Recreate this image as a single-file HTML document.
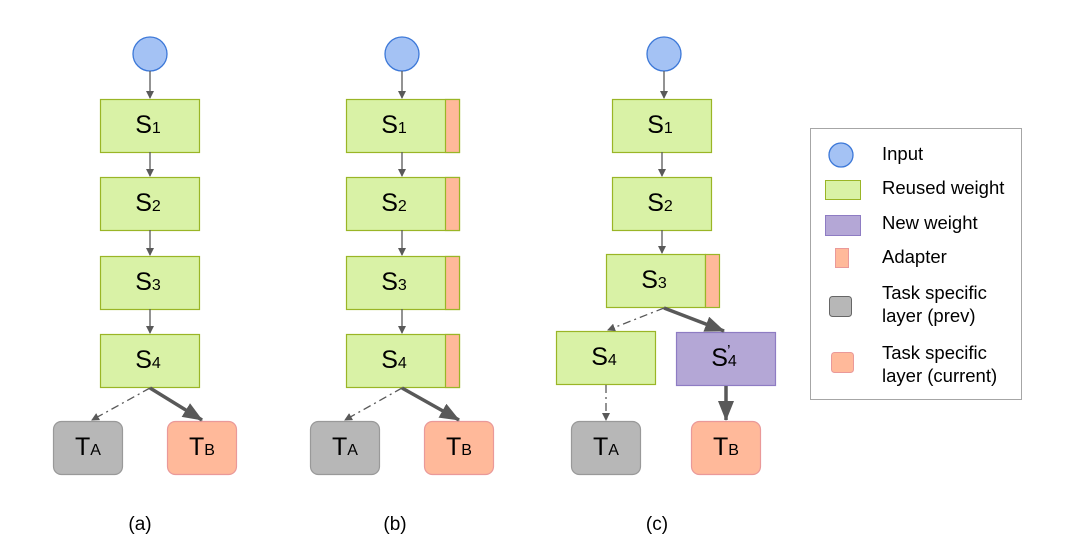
<!DOCTYPE html>
<html><head><meta charset="utf-8"><style>
html,body{margin:0;padding:0;background:#fff;}
svg{display:block;font-family:"Liberation Sans",Arial,sans-serif;}
</style></head><body>
<svg width="1066" height="549" viewBox="0 0 1066 549">
<defs>
<marker id="ah" markerWidth="8" markerHeight="8" refX="7" refY="4" orient="auto" markerUnits="userSpaceOnUse"><path d="M0,0 L8,4 L0,8 z" fill="#595959"/></marker>
<marker id="ahb" markerWidth="20" markerHeight="16" refX="19" refY="8" orient="auto" markerUnits="userSpaceOnUse"><path d="M0,0 L20,8 L0,16 z" fill="#595959"/></marker>
</defs>
<g id="root"></g>
<g>
<rect x="810.5" y="128.5" width="211" height="271" fill="#fff" stroke="#a6a6a6"/>
<circle cx="841" cy="155" r="12" fill="#a4c2f4" stroke="#3c78d8" stroke-width="1.3"/>
<rect x="825.5" y="180.5" width="35" height="19" fill="#d9f2a6" stroke="#9ab526"/>
<rect x="825.5" y="215.5" width="35" height="20" fill="#b4a7d6" stroke="#8e7cc3"/>
<rect x="835.5" y="248.5" width="13" height="19" fill="#ffb99a" stroke="#ea9999"/>
<rect x="829.5" y="296.5" width="22" height="20" rx="3" fill="#b7b7b7" stroke="#666"/>
<rect x="831.5" y="352.5" width="22" height="20" rx="3" fill="#ffb99a" stroke="#ea9999"/>
<g font-size="18.5" fill="#000">
<text x="882" y="160">Input</text>
<text x="882" y="194">Reused weight</text>
<text x="882" y="229">New weight</text>
<text x="882" y="263">Adapter</text>
<text x="882" y="299">Task specific</text>
<text x="882" y="322">layer (prev)</text>
<text x="882" y="359">Task specific</text>
<text x="882" y="382">layer (current)</text>
</g>
</g>
<g font-size="19">
<text x="140" y="530" text-anchor="middle">(a)</text>
<text x="395" y="530" text-anchor="middle">(b)</text>
<text x="657" y="530" text-anchor="middle">(c)</text>
</g>
</svg>
<script>
const NS='http://www.w3.org/2000/svg';
const root=document.getElementById('root');
function mk(tag,attrs,name){const e=document.createElementNS(NS,tag);for(const k in attrs)e.setAttribute(k,attrs[k]);


root.appendChild(e);return e;}
function label(cx,cy,main,sub,name,prime){const t=mk('text',{x:cx,y:cy+8,'text-anchor':'middle','font-size':25},name);
t.textContent=main;const ts=document.createElementNS(NS,'tspan');ts.setAttribute('font-size','16');ts.textContent=sub;t.appendChild(ts);
if(prime){const p=mk('text',{x:cx+3,y:cy-2,'font-size':16},name+'-prime');p.textContent='\u2019';}}
function box(x,y,w,h,fill,stroke,name,rx){return mk('rect',{x:x+.5,y:y+.5,width:w,height:h,fill,stroke,rx:rx||0,'stroke-width':1.2},name);}
function line(x1,y1,x2,y2,style,name){const a={x1,y1,x2,y2,stroke:'#595959'};
if(style==='thin'){a['stroke-width']=1.3;a['marker-end']='url(#ah)';}
else if(style==='dash'){a['stroke-width']=1.3;a['stroke-dasharray']='8,4,2,4';a['marker-end']='url(#ah)';}
else {a['stroke-width']=3.5;a['marker-end']='url(#ahb)';}
mk('line',a,name);}
const G='#d9f2a6',GS='#9ab526',P='#ffb99a',PS='#ea9999';
function stack(p,cx,bx,adapter,count){
  mk('circle',{cx:cx,cy:54,r:17,fill:'#a4c2f4',stroke:'#3c78d8','stroke-width':1.3},p+'-input');
  const ys=[99,177,256,334];
  line(cx,71,cx,98,'thin',p+'-arrow-in');
  for(let i=0;i<count;i++){
    const w=adapter?113:99;
    box(bx,ys[i],w,53,G,GS,p+'-s'+(i+1));
    if(adapter) box(bx+99,ys[i],14,53,P,GS,p+'-adapter-'+(i+1));
    label(bx+48,ys[i]+26,'S',String(i+1),p+'-s'+(i+1)+'-label');
    if(i<count-1) line(cx,ys[i]+53,cx,ys[i+1]-1,'thin',p+'-arrow-'+(i+1));
  }
}
function tasks(p,ax,bx,y){
  box(ax,y,69,53,'#b7b7b7','#999',p+'-task-a',8);label(ax+35,y+26,'T','A',p+'-task-a-label');
  box(bx,y,69,53,P,PS,p+'-task-b',8);label(bx+35,y+26,'T','B',p+'-task-b-label');
}
// (a)
stack('a',150,100,false,4);
tasks('a',53,167,421);
line(150,388,92,420,'dash','a-arrow-ta');line(150,388,202,420,'bold','a-arrow-tb');
// (b)
stack('b',402,346,true,4);
tasks('b',310,424,421);
line(402,388,345,420,'dash','b-arrow-ta');line(402,388,459,420,'bold','b-arrow-tb');
// (c)
mk('circle',{cx:664,cy:54,r:17,fill:'#a4c2f4',stroke:'#3c78d8','stroke-width':1.3},'c-input');
line(664,71,664,98,'thin','c-arrow-in');
box(612,99,99,53,G,GS,'c-s1');label(660,125,'S','1','c-s1-label');
line(662,152,662,176,'thin','c-arrow-1');
box(612,177,99,53,G,GS,'c-s2');label(660,203,'S','2','c-s2-label');
line(662,230,662,253,'thin','c-arrow-2');
box(606,254,99,53,G,GS,'c-s3');box(705,254,14,53,P,GS,'c-adapter-3');label(654,280,'S','3','c-s3-label');
box(556,331,99,53,G,GS,'c-s4');label(604,357,'S','4','c-s4-label');
box(676,332,99,53,'#b4a7d6','#8e7cc3','c-s4-new');label(724,358,'S','4','c-s4-new-label',true);
line(664,308,608,330,'dash','c-arrow-s4');line(664,308,724,331,'bold','c-arrow-s4-new');
tasks('c',571,691,421);
line(606,385,606,420,'dash','c-arrow-ta');line(726,386,726,420,'bold','c-arrow-tb');
</script>
</body></html>
